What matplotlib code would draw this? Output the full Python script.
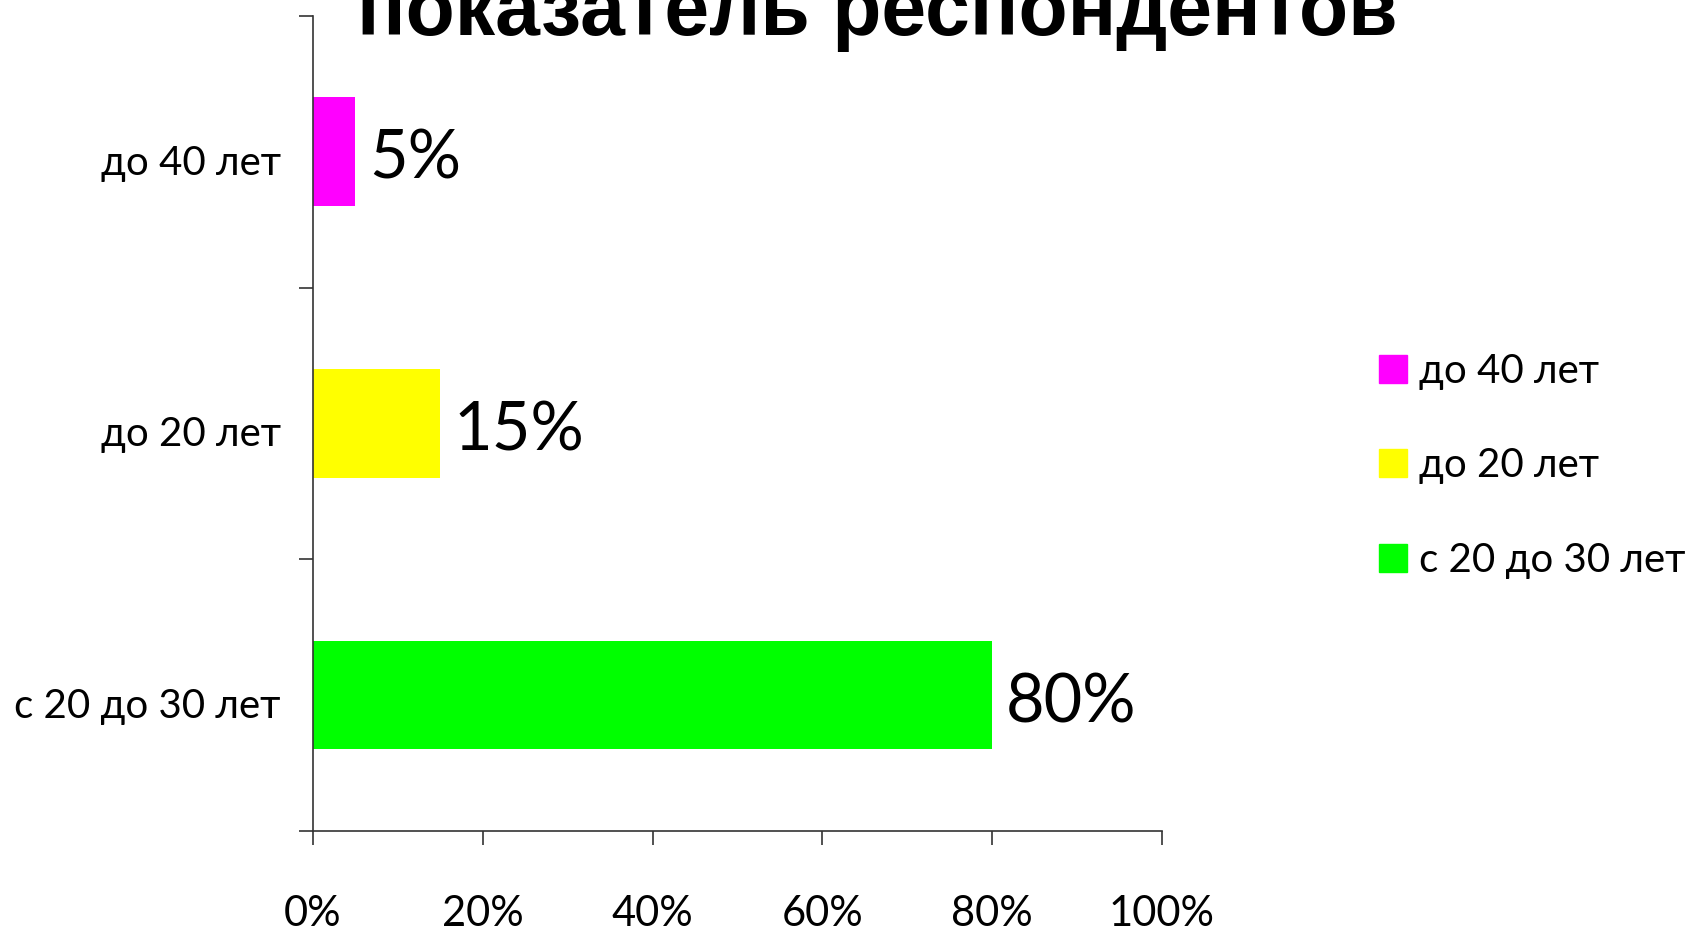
import matplotlib
matplotlib.use("Agg")
import matplotlib.pyplot as plt
import matplotlib.transforms as mtransforms
from matplotlib.patches import Patch

plt.rcParams['font.family'] = ['Lato', 'DejaVu Sans']

# данные
categories = ['с 20 до 30 лет', 'до 20 лет', 'до 40 лет']
values = [80, 15, 5]
colors = ['#00ff00', '#ffff00', '#ff00ff']
x_ticks = [0, 20, 40, 60, 80, 100]
title = 'показатель респондентов'

fig = plt.figure(figsize=(16.87, 9.34), dpi=100)
ax = fig.add_axes([0.1855, 0.1103, 0.5033, 0.8727])

y = list(range(len(categories)))
ax.barh(y, values, height=0.4, color=colors)

# сдвиг подписей чуть вниз, как в Excel
down = mtransforms.ScaledTranslation(0, -8 / 100, fig.dpi_scale_trans)

# подписи значений
for yi, v in zip(y, values):
    t = ax.text(v + 1.6, yi, f'{v}%', va='center', ha='left', fontsize=48)
    t.set_transform(t.get_transform() + down)

ax.set_xlim(0, 100)
ax.set_ylim(-0.5, len(categories) - 0.5)

ax.set_xticks(x_ticks)
ax.set_xticklabels([f'{t}%' for t in x_ticks], fontsize=30)
ax.tick_params(axis='x', length=10, width=1.2, color='#333333', pad=36)

ax.set_yticks(y)
ax.set_yticklabels(categories, fontsize=29)
ax.set_yticks([-0.5, 0.5, 1.5, 2.5], minor=True)
ax.tick_params(axis='y', which='major', length=0, pad=23)
ax.tick_params(axis='y', which='minor', length=10, width=1.2, color='#333333')
for lab in ax.get_yticklabels():
    lab.set_transform(lab.get_transform() + down)

for s in ['top', 'right']:
    ax.spines[s].set_visible(False)
for s in ['left', 'bottom']:
    ax.spines[s].set_color('#333333')
    ax.spines[s].set_linewidth(1.2)

# заголовок (верх обрезан, как в оригинале)
fig.text(0.52, 1 - 35 / 934, title, ha='center', va='baseline',
         fontsize=58, fontweight='bold', family='Liberation Sans')

handles = [Patch(color=c) for c in reversed(colors)]
labels = list(reversed(categories))
fig.legend(handles, labels, loc='upper left', bbox_to_anchor=(0.796, 0.661),
           frameon=False, fontsize=29, handlelength=0.7, handleheight=0.7,
           handletextpad=0.3, labelspacing=1.43)

fig.savefig('out.png', dpi=100)
